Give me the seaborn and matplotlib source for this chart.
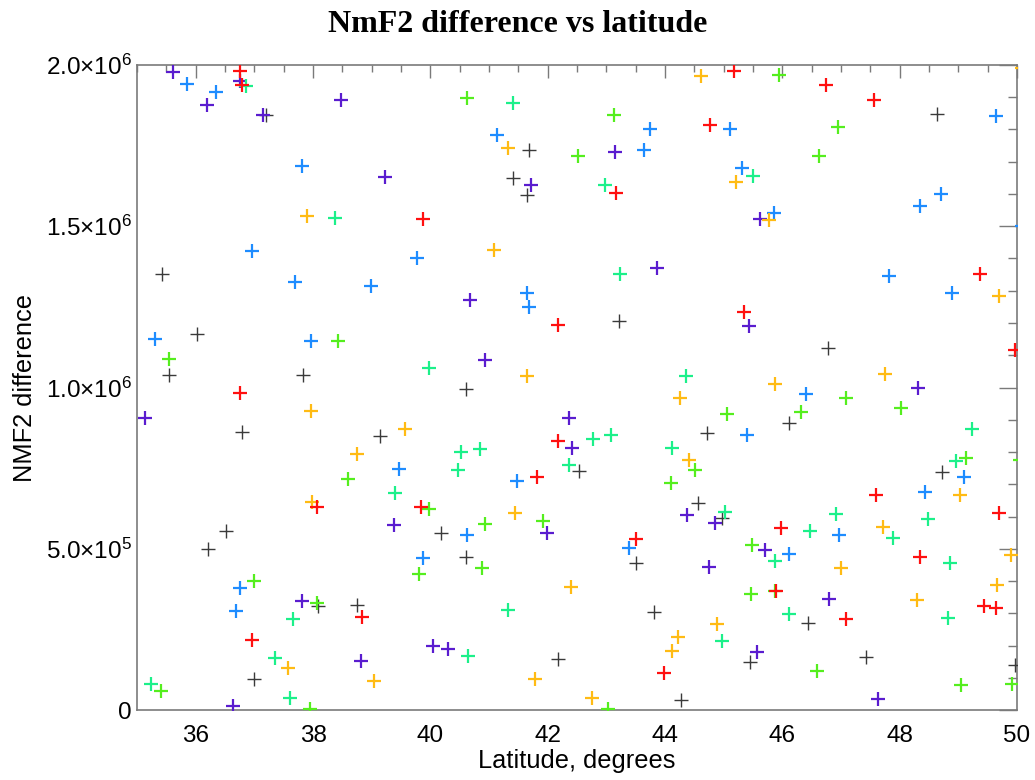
import numpy as np
import pandas as pd
import seaborn as sns
import matplotlib
matplotlib.use("Agg")
import matplotlib.pyplot as plt
from matplotlib.ticker import MultipleLocator, FixedLocator, FixedFormatter

# Latitude (degrees) and NmF2 difference for each colour group
black_lat = [35.42, 37.20, 41.68, 41.41, 41.65, 48.63, 36.03, 35.54, 37.83, 36.79, 39.14, 43.22,
             40.60, 44.72, 42.54, 46.77, 46.11, 48.73, 36.51, 36.21, 38.09, 38.75, 36.99, 40.18,
             40.61, 43.50, 44.57, 44.98, 43.81, 44.27, 42.18, 46.44, 45.45, 47.43, 49.96]
black_val = [1.351e6, 1.844e6, 1.736e6, 1.649e6, 1.598e6, 1.848e6, 1.167e6, 1.039e6, 1.039e6, 0.862e6,
             0.849e6, 1.207e6, 0.994e6, 0.860e6, 0.740e6, 1.124e6, 0.891e6, 0.737e6, 0.555e6, 0.498e6,
             0.324e6, 0.327e6, 0.095e6, 0.550e6, 0.475e6, 0.455e6, 0.642e6, 0.595e6, 0.304e6, 0.032e6,
             0.158e6, 0.271e6, 0.148e6, 0.163e6, 0.139e6]

purple_lat = [35.61, 36.19, 36.76, 37.15, 38.48, 39.22, 41.72, 43.15, 43.87, 45.62, 35.13, 40.68,
              40.94, 42.36, 42.42, 45.44, 48.32, 39.38, 37.82, 38.82, 36.64, 40.04, 40.30, 41.98,
              44.37, 44.85, 44.75, 45.70, 46.80, 45.56, 47.63]
purple_val = [1.978e6, 1.876e6, 1.949e6, 1.844e6, 1.890e6, 1.653e6, 1.629e6, 1.729e6, 1.372e6, 1.523e6,
              0.904e6, 1.270e6, 1.086e6, 0.904e6, 0.813e6, 1.192e6, 0.998e6, 0.574e6, 0.339e6, 0.152e6,
              0.012e6, 0.200e6, 0.189e6, 0.548e6, 0.605e6, 0.579e6, 0.444e6, 0.495e6, 0.345e6, 0.179e6,
              0.033e6]

blue_lat = [35.85, 36.35, 37.82, 36.96, 39.78, 37.70, 38.99, 43.74, 45.10, 41.13, 43.65, 49.64,
            45.32, 45.86, 48.34, 48.70, 50.08, 47.81, 35.30, 37.97, 39.46, 41.65, 41.68, 41.48,
            48.90, 46.41, 45.40, 49.09, 48.43, 39.87, 36.75, 36.69, 40.62, 43.38, 46.96, 46.12]
blue_val = [1.942e6, 1.916e6, 1.687e6, 1.424e6, 1.403e6, 1.328e6, 1.315e6, 1.803e6, 1.803e6, 1.783e6,
            1.736e6, 1.843e6, 1.682e6, 1.540e6, 1.564e6, 1.601e6, 1.500e6, 1.346e6, 1.150e6, 1.145e6,
            0.746e6, 1.294e6, 1.250e6, 0.709e6, 1.292e6, 0.979e6, 0.854e6, 0.722e6, 0.677e6, 0.472e6,
            0.379e6, 0.308e6, 0.543e6, 0.501e6, 0.543e6, 0.483e6]

spring_lat = [36.85, 38.37, 41.41, 42.97, 43.23, 45.50, 39.98, 39.40, 44.36, 42.77, 43.08, 44.12,
              40.52, 40.85, 40.47, 42.36, 49.24, 48.96, 37.66, 37.36, 35.24, 37.61, 45.03, 41.33,
              44.97, 40.65, 46.47, 46.91, 47.89, 48.49, 45.88, 48.86, 46.12, 48.82]
spring_val = [1.935e6, 1.526e6, 1.881e6, 1.627e6, 1.353e6, 1.656e6, 1.062e6, 0.673e6, 1.037e6, 0.841e6,
              0.854e6, 0.813e6, 0.800e6, 0.808e6, 0.743e6, 0.761e6, 0.870e6, 0.771e6, 0.282e6, 0.160e6,
              0.080e6, 0.037e6, 0.615e6, 0.311e6, 0.215e6, 0.167e6, 0.555e6, 0.607e6, 0.534e6, 0.592e6,
              0.462e6, 0.455e6, 0.299e6, 0.285e6]

lime_lat = [40.62, 43.13, 42.52, 45.95, 46.95, 46.63, 38.43, 35.55, 38.59, 45.06, 44.51, 44.10,
            47.09, 48.02, 46.32, 49.13, 50.05, 39.97, 39.81, 37.00, 38.06, 35.41, 37.95, 40.94,
            41.92, 40.88, 43.02, 45.48, 45.47, 45.88, 46.59, 49.04, 49.91]
lime_val = [1.897e6, 1.845e6, 1.717e6, 1.970e6, 1.809e6, 1.718e6, 1.143e6, 1.088e6, 0.717e6, 0.919e6,
            0.743e6, 0.704e6, 0.969e6, 0.938e6, 0.923e6, 0.781e6, 0.776e6, 0.623e6, 0.422e6, 0.401e6,
            0.332e6, 0.059e6, 0.004e6, 0.576e6, 0.587e6, 0.441e6, 0.004e6, 0.512e6, 0.361e6, 0.370e6,
            0.122e6, 0.077e6, 0.082e6]

orange_lat = [37.89, 41.09, 44.61, 41.32, 45.21, 45.78, 50.08, 37.97, 39.56, 38.75, 41.65, 44.26,
              44.41, 49.70, 47.75, 45.87, 49.03, 37.99, 37.58, 39.04, 41.45, 42.40, 44.89, 44.22,
              44.12, 41.78, 42.75, 47.71, 47.00, 49.89, 49.66, 48.29]
orange_val = [1.531e6, 1.426e6, 1.965e6, 1.743e6, 1.637e6, 1.520e6, 1.990e6, 0.927e6, 0.870e6, 0.793e6,
              1.037e6, 0.968e6, 0.774e6, 1.283e6, 1.041e6, 1.011e6, 0.668e6, 0.644e6, 0.131e6, 0.090e6,
              0.611e6, 0.382e6, 0.266e6, 0.226e6, 0.184e6, 0.096e6, 0.037e6, 0.566e6, 0.439e6, 0.480e6,
              0.387e6, 0.340e6]

red_lat = [36.75, 36.79, 37.01, 39.87, 44.77, 43.16, 45.17, 46.74, 47.56, 49.37, 36.76, 42.18,
           42.18, 41.82, 45.35, 49.96, 47.60, 38.06, 39.84, 36.96, 38.84, 43.50, 43.98, 45.98,
           48.35, 49.69, 45.90, 49.44, 49.64, 47.08]
red_val = [1.980e6, 1.939e6, 2.023e6, 1.523e6, 1.814e6, 1.603e6, 1.980e6, 1.939e6, 1.892e6, 1.353e6,
           0.982e6, 1.195e6, 0.834e6, 0.722e6, 1.233e6, 1.117e6, 0.668e6, 0.631e6, 0.631e6, 0.217e6,
           0.288e6, 0.529e6, 0.115e6, 0.564e6, 0.474e6, 0.611e6, 0.368e6, 0.324e6, 0.316e6, 0.282e6]

x_ticks = [36, 38, 40, 42, 44, 46, 48, 50]
y_ticks = [0, 5.0e5, 1.0e6, 1.5e6, 2.0e6]
y_tick_labels = ["0", r"$5.0{\times}10^{5}$", r"$1.0{\times}10^{6}$",
                 r"$1.5{\times}10^{6}$", r"$2.0{\times}10^{6}$"]

groups = [
    ("black", black_lat, black_val, "#3a3a3a", 1.0),
    ("purple", purple_lat, purple_val, "#5a1ccf", 1.6),
    ("blue", blue_lat, blue_val, "#1e8cff", 1.6),
    ("spring", spring_lat, spring_val, "#1cf08a", 1.6),
    ("lime", lime_lat, lime_val, "#55ee1e", 1.6),
    ("orange", orange_lat, orange_val, "#ffbb14", 1.6),
    ("red", red_lat, red_val, "#ff1010", 1.6),
]

frames = [pd.DataFrame({"lat": la, "val": va, "grp": name}) for name, la, va, _, _ in groups]
df = pd.concat(frames, ignore_index=True)

sns.set_style("white")
plt.rcParams["font.family"] = ["Liberation Sans", "DejaVu Sans"]
plt.rcParams["text.color"] = "black"
plt.rcParams["axes.labelcolor"] = "black"
plt.rcParams["mathtext.fontset"] = "custom"
plt.rcParams["mathtext.rm"] = "Liberation Sans"
plt.rcParams["mathtext.it"] = "Liberation Sans:italic"
plt.rcParams["mathtext.bf"] = "Liberation Sans:bold"

fig = plt.figure(figsize=(10.35, 7.8), dpi=100)
ax = fig.add_axes([0.1324, 0.0897, 0.8502, 0.8270])

for name, _, _, color, lw in groups:
    sub = df[df["grp"] == name]
    sns.scatterplot(data=sub, x="lat", y="val", marker="+", s=95, color=color,
                    linewidth=lw, ax=ax, legend=False, zorder=3)

ax.set_xlim(35, 50)
ax.set_ylim(0, 2.0e6)

ax.xaxis.set_major_locator(FixedLocator(x_ticks))
ax.xaxis.set_minor_locator(MultipleLocator(0.5))
ax.yaxis.set_major_locator(FixedLocator(y_ticks))
ax.yaxis.set_major_formatter(FixedFormatter(y_tick_labels))
ax.yaxis.set_minor_locator(MultipleLocator(1.0e5))

spine_col = "#7a7a7a"
for sp in ax.spines.values():
    sp.set_visible(True)
    sp.set_color(spine_col)
    sp.set_linewidth(1.2)

ax.tick_params(axis="both", which="both", direction="in", top=True, right=True,
               color=spine_col, width=1.0, labelsize=17.5, labelcolor="black")
ax.tick_params(axis="x", which="major", length=9.5, pad=11)
ax.tick_params(axis="x", which="minor", length=5)
ax.tick_params(axis="y", which="major", length=13, pad=4)
ax.tick_params(axis="y", which="minor", length=6.5)

ax.set_xlabel("Latitude, degrees", fontsize=18.3, color="black")
ax.set_ylabel("NMF2 difference", fontsize=18.3, color="black")
ax.xaxis.set_label_coords(0.5, -0.060)
ax.yaxis.set_label_coords(-0.114, 0.5)

fig.text(0.5, 1 - 24 / 780, "NmF2 difference vs latitude", ha="center", va="center",
         fontsize=23, fontweight="bold", color="black",
         family=["Liberation Serif", "DejaVu Serif"])

fig.savefig("out.png", dpi=100)
